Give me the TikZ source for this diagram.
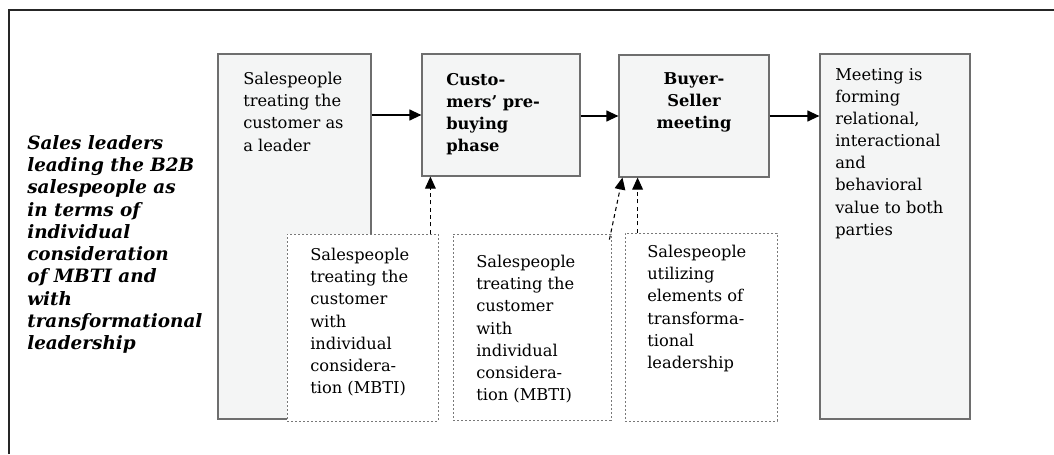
\documentclass[tikz,border=0pt]{standalone}
\usepackage{fontspec}
\setmainfont{DejaVu Serif}
\usepackage{tikz}
\usetikzlibrary{arrows.meta,positioning,fit,calc}
\definecolor{boxfill}{RGB}{244,245,245}
\definecolor{boxline}{RGB}{110,110,110}
\definecolor{dashline}{RGB}{120,120,120}

\begin{document}
\begin{tikzpicture}[x=0.75pt,y=-0.75pt,
  every node/.style={align=left,inner sep=0pt,font=\fontsize{12.2}{16.6}\selectfont},
  frame/.style={draw=black!85,line width=1.2pt},
  solidbox/.style={draw=boxline,fill=boxfill,line width=0.8pt,inner sep=0pt},
  dashbox/.style={draw=dashline,fill=white,line width=0.6pt,dash pattern=on 1.8pt off 1.2pt,inner sep=0pt},
  title/.style={font=\fontsize{12.2}{16.6}\selectfont\bfseries},
  leadfont/.style={font=\fontsize{13.8}{16.7}\selectfont\bfseries\itshape},
  flow/.style={-{Triangle[length=9pt,width=8pt]},line width=1.5pt},
  dflow/.style={-{Triangle[length=9pt,width=8pt]},line width=0.8pt,dash pattern=on 3pt off 2.5pt}]

    \useasboundingbox (0,0) rectangle (1054,454);
    \draw[frame] (9,454) -- (9,10) -- (1054,10);

    % solid boxes
    \node[solidbox,fit={(218,54) (371,419)}] (lead) {};
    \node[solidbox,fit={(422,54) (580,176)}] (pre) {};
    \node[solidbox,fit={(619,55) (769,177)}] (meet) {};
    \node[solidbox,fit={(820,54) (970,419)}] (value) {};

    % dashed boxes
    \node[dashbox,fit={(287,234) (438,421)}] (ind1) {};
    \node[dashbox,fit={(453,234) (611,420)}] (ind2) {};
    \node[dashbox,fit={(625,233) (777,421)}] (trans) {};

    % texts
    \node[leadfont,anchor=north west] (leaders) at (27,135)
        {Sales leaders\\leading the B2B\\salespeople as\\in terms of\\individual\\consideration\\of MBTI and\\with\\transformational\\leadership};
    \node[anchor=north west] (leadtxt) at (243,72) {Salespeople\\treating the\\customer as\\a leader};
    \node[title,anchor=north west] (pretxt) at (446,73) {Custo-\\mers’ pre-\\buying\\phase};
    \node[title,anchor=north,align=center] (meettxt) at (694,72) {Buyer-\\Seller\\meeting};
    \node[anchor=north west] (valuetxt) at (835,68)
        {Meeting is\\forming\\relational,\\interactional\\and\\behavioral\\value to both\\parties};
    \node[anchor=north west] (ind1txt) at (310,248)
        {Salespeople\\treating the\\customer\\with\\individual\\considera-\\tion (MBTI)};
    \node[anchor=north west] (ind2txt) at (476,255)
        {Salespeople\\treating the\\customer\\with\\individual\\considera-\\tion (MBTI)};
    \node[anchor=north west] (transtxt) at (647,245)
        {Salespeople\\utilizing\\elements of\\transforma-\\tional\\leadership};

    % connectors
    \draw[flow] (lead.east |- pre.west) -- (pre.west);
    \draw[flow] (pre.east |- meet.west) -- (meet.west);
    \draw[flow] (meet.east) -- (meet.east -| value.west);

    \coordinate (up1) at ($(ind1.north east)+(-8,0)$);
    \coordinate (up3) at ($(trans.north west)+(13,0)$);
    \draw[dflow] (up1) -- (up1 |- pre.south);
    \draw[dflow] ($(ind2.north east)+(-2,6)$) -- ($(meet.south west)+(4,0)$);
    \draw[dflow] (up3) -- (up3 |- meet.south);
\end{tikzpicture}
\end{document}
